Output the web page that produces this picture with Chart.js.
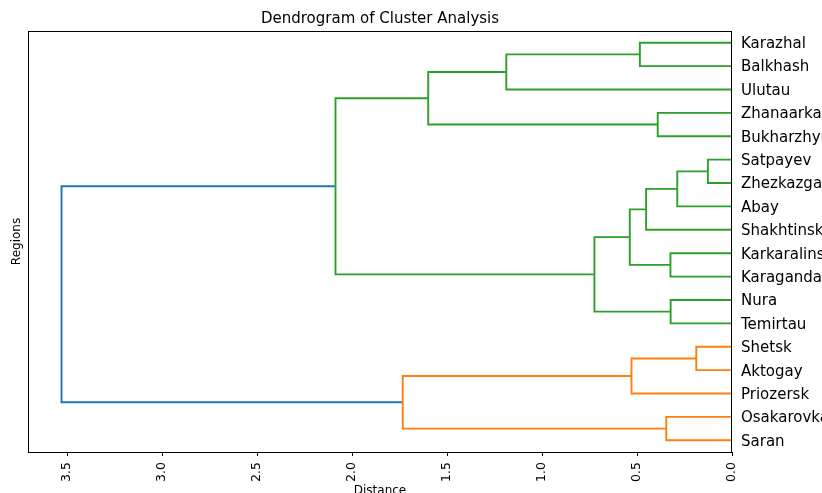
<!DOCTYPE html>
<html>
<head>
<meta charset="utf-8">
<script src="https://cdn.jsdelivr.net/npm/chart.js@4.4.1/dist/chart.umd.min.js"></script>
<style>
  html, body { margin: 0; padding: 0; background: #fff; }
  canvas { display: block; }
</style>
</head>
<body>
<canvas id="dendro" width="822" height="493"></canvas>
<script>
// leaves from bottom to top (scipy leaf order)
const leafNames = [
  "Saran", "Osakarovka", "Priozersk", "Aktogay", "Shetsk", "Temirtau", "Nura",
  "Karaganda", "Karkaralinsk", "Shakhtinsk", "Abay", "Zhezkazgan", "Satpayev",
  "Bukharzhyrau", "Zhanaarka", "Ulutau", "Balkhash", "Karazhal"
];

// linkage: node ids 0..17 are leaves, merge k creates node 18 + k
const mergeLeft  = [11, 3, 10, 7, 5, 0, 13, 9, 16, 2, 21, 22, 15, 24, 23, 29, 32];
const mergeRight = [12, 4, 18, 8, 6, 1, 14, 20, 17, 19, 25, 28, 26, 30, 27, 31, 33];
const mergeDist  = [0.127, 0.188, 0.288, 0.324, 0.323, 0.346, 0.391, 0.452, 0.485,
                    0.529, 0.538, 0.724, 1.188, 1.599, 1.733, 2.087, 3.529];

const xTicks = [0, 0.5, 1, 1.5, 2, 2.5, 3, 3.5];

const clusterColors = ["#ff7f0e", "#2ca02c"];
const aboveColor = "#1f77b4";
const FONT = "'DejaVu Sans', sans-serif";

const nLeaves = leafNames.length;
const maxDist = Math.max(...mergeDist);
const threshold = 0.7 * maxDist;

// node positions (leaf slots 5, 15, 25 ...) and heights
const pos = leafNames.map((_, i) => 5 + 10 * i);
const height = leafNames.map(() => 0);
mergeDist.forEach((d, k) => {
  pos.push((pos[mergeLeft[k]] + pos[mergeRight[k]]) / 2);
  height.push(d);
});

// colour clusters below threshold, like scipy does
const linkColor = [];
let nextColor = 0;
function paint(node, col) {
  if (node < nLeaves) return;
  const k = node - nLeaves;
  let c = col;
  if (!c && mergeDist[k] < threshold) c = clusterColors[nextColor++ % clusterColors.length];
  linkColor[k] = c || aboveColor;
  paint(mergeLeft[k], c);
  paint(mergeRight[k], c);
}
paint(nLeaves + mergeDist.length - 1, null);

const datasets = mergeDist.map((d, k) => {
  const a = mergeLeft[k], b = mergeRight[k];
  return {
    data: [
      { x: height[a], y: pos[a] },
      { x: d, y: pos[a] },
      { x: d, y: pos[b] },
      { x: height[b], y: pos[b] }
    ],
    borderColor: linkColor[k],
    borderWidth: 1.9,
    showLine: true,
    pointRadius: 0,
    fill: false,
    tension: 0
  };
});

// axes frame
const framePlugin = {
  id: "frame",
  afterDatasetsDraw(chart) {
    const { ctx, chartArea: a } = chart;
    ctx.save();
    ctx.strokeStyle = "#000";
    ctx.lineWidth = 1;
    ctx.strokeRect(Math.round(a.left) + 0.5, Math.round(a.top) + 0.5,
                   Math.round(a.right - a.left) - 1, Math.round(a.bottom - a.top));
    ctx.restore();
  }
};

new Chart(document.getElementById("dendro"), {
  type: "scatter",
  data: { datasets },
  plugins: [framePlugin],
  options: {
    responsive: false,
    animation: false,
    devicePixelRatio: 1,
    layout: { padding: 0 },
    plugins: {
      legend: { display: false },
      tooltip: { enabled: false },
      title: {
        display: true,
        text: "Dendrogram of Cluster Analysis",
        color: "#000",
        fullSize: false,
        font: { family: FONT, size: 15, weight: "normal" },
        padding: { top: 10, bottom: 3 }
      }
    },
    scales: {
      x: {
        type: "linear",
        position: "bottom",
        reverse: true,
        min: 0,
        max: maxDist * 1.05,
        afterBuildTicks: s => { s.ticks = xTicks.map(v => ({ value: v })); },
        afterFit: s => { s.height = 41; },
        ticks: {
          minRotation: 90,
          maxRotation: 90,
          padding: 6,
          color: "#000",
          font: { family: FONT, size: 12.5 },
          callback: v => Number(v).toFixed(1)
        },
        grid: { display: true, drawOnChartArea: false, drawTicks: true, tickLength: 4, color: "#000" },
        border: { display: false },
        title: {
          display: true,
          text: "Distance",
          color: "#000",
          font: { family: FONT, size: 12 },
          padding: { top: 0, bottom: -5 }
        }
      },
      y: {
        type: "linear",
        position: "right",
        min: 0,
        max: nLeaves * 10,
        afterBuildTicks: s => { s.ticks = pos.slice(0, nLeaves).map(v => ({ value: v })); },
        afterFit: s => { s.width = 90; },
        ticks: {
          autoSkip: false,
          padding: 9,
          labelOffset: 1.5,
          color: "#000",
          font: { family: FONT, size: 15 },
          callback: (v, i) => leafNames[i]
        },
        grid: { display: false, drawTicks: false },
        border: { display: false }
      },
      yl: {
        type: "linear",
        position: "left",
        min: 0,
        max: 1,
        afterFit: s => { s.width = 28; },
        ticks: { display: false },
        grid: { display: false, drawTicks: false },
        border: { display: false },
        title: {
          display: true,
          text: "Regions",
          color: "#000",
          font: { family: FONT, size: 12 },
          padding: { top: 10, bottom: 0 }
        }
      }
    }
  }
});
</script>
</body>
</html>
